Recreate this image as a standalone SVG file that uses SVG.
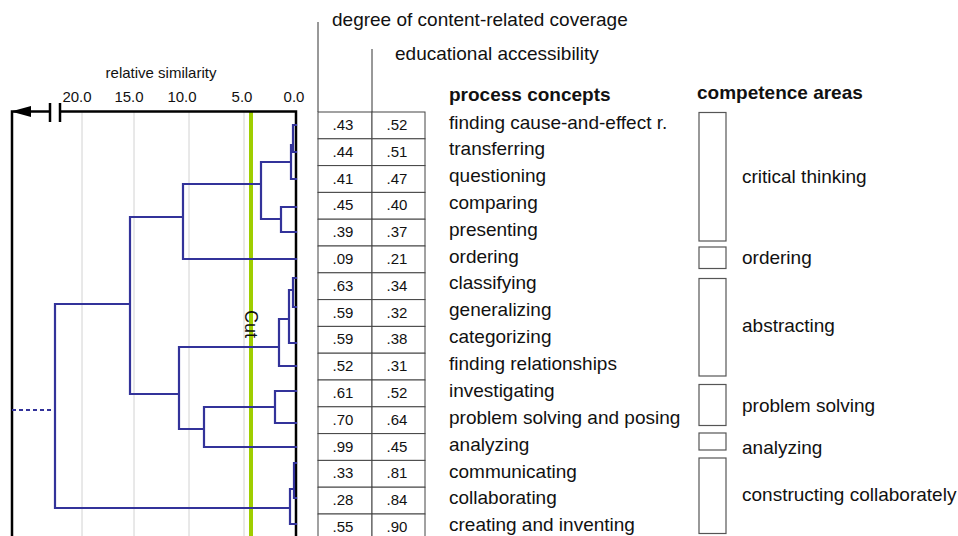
<svg xmlns="http://www.w3.org/2000/svg" width="958" height="536" viewBox="0 0 958 536">
<style>
text{font-family:"Liberation Sans",Arial,Helvetica,sans-serif;fill:#111}
.lbl{font-size:19px}
.b{font-size:19px;font-weight:bold}
.num{font-size:15px;text-anchor:middle}
.sc{font-size:15px;text-anchor:middle}
.grid{stroke:#d2d2d2;stroke-width:1;fill:none}
.frame{stroke:#000;stroke-width:2.5;fill:none}
.den{stroke:#33339a;stroke-width:2.2;fill:none;stroke-linecap:square}
.cell{stroke:#444;stroke-width:1;fill:#fff}
.box{stroke:#555;stroke-width:1.2;fill:#fff}
.thin{stroke:#333;stroke-width:1;fill:none}
</style>
<rect width="958" height="536" fill="#fff"/>
<g id="axis">
<text class="sc" x="161" y="78">relative similarity</text>
<text class="sc" x="77" y="102">20.0</text>
<text class="sc" x="129" y="102">15.0</text>
<text class="sc" x="182" y="102">10.0</text>
<text class="sc" x="242" y="102">5.0</text>
<text class="sc" x="294" y="102">0.0</text>
<path class="grid" d="M82,112V536M134,112V536M189,112V536M244,112V536"/>
<line x1="251" y1="112" x2="251" y2="536" stroke="#9fce00" stroke-width="4"/>
<path class="frame" d="M12,536V111.5H50M60,111.5H296V536M50,103V122M60,103V122"/>
<polygon points="11,111.5 31,106 31,117" fill="#000"/>
</g>
<g id="connectors">
<path class="den" d="M296,125H293V152H296M293,145H291V179H296M291,162H261V219H281M281,207V232M281,207H296M281,232H296M261,184H183V259H296M183,217H130V394H179M130,304H55V508H290M179,347V429M179,347H279M179,429H204M279,319V366H296M279,319H289M289,290V343H296M289,290H293M296,278H293V307H296M204,407V447H296M204,407H275M275,391V423H296M275,391H296M296,463H294V498H296M294,489H290V524H296"/>
<path d="M12,410H55" stroke="#33339a" stroke-width="2.2" stroke-dasharray="4,3" fill="none"/>
</g>
<text x="245" y="310" transform="rotate(90 245 310)" style="font-size:18px">Cut</text>
<g id="headers">
<line class="thin" x1="318" y1="22" x2="318" y2="112"/>
<line class="thin" x1="372" y1="49" x2="372" y2="112"/>
<text class="lbl" x="332" y="26">degree of content-related coverage</text>
<text class="lbl" x="395" y="60">educational accessibility</text>
<text class="b" x="449" y="101">process concepts</text>
<text class="b" x="697" y="99">competence areas</text>
</g>
<g id="rows">
<g id="r1"><rect class="cell" x="318" y="112" width="54" height="26.8"/><rect class="cell" x="372" y="112" width="53" height="26.8"/><text class="num" x="343" y="130">.43</text><text class="num" x="397" y="130">.52</text><text class="lbl" x="449" y="128.5">finding cause-and-effect r.</text></g>
<g id="r2"><rect class="cell" x="318" y="138.8" width="54" height="26.8"/><rect class="cell" x="372" y="138.8" width="53" height="26.8"/><text class="num" x="343" y="156.8">.44</text><text class="num" x="397" y="156.8">.51</text><text class="lbl" x="449" y="155.3">transferring</text></g>
<g id="r3"><rect class="cell" x="318" y="165.6" width="54" height="26.8"/><rect class="cell" x="372" y="165.6" width="53" height="26.8"/><text class="num" x="343" y="183.6">.41</text><text class="num" x="397" y="183.6">.47</text><text class="lbl" x="449" y="182.1">questioning</text></g>
<g id="r4"><rect class="cell" x="318" y="192.4" width="54" height="26.8"/><rect class="cell" x="372" y="192.4" width="53" height="26.8"/><text class="num" x="343" y="210.4">.45</text><text class="num" x="397" y="210.4">.40</text><text class="lbl" x="449" y="208.9">comparing</text></g>
<g id="r5"><rect class="cell" x="318" y="219.2" width="54" height="26.8"/><rect class="cell" x="372" y="219.2" width="53" height="26.8"/><text class="num" x="343" y="237.2">.39</text><text class="num" x="397" y="237.2">.37</text><text class="lbl" x="449" y="235.7">presenting</text></g>
<g id="r6"><rect class="cell" x="318" y="246" width="54" height="26.8"/><rect class="cell" x="372" y="246" width="53" height="26.8"/><text class="num" x="343" y="264">.09</text><text class="num" x="397" y="264">.21</text><text class="lbl" x="449" y="262.5">ordering</text></g>
<g id="r7"><rect class="cell" x="318" y="272.8" width="54" height="26.8"/><rect class="cell" x="372" y="272.8" width="53" height="26.8"/><text class="num" x="343" y="290.8">.63</text><text class="num" x="397" y="290.8">.34</text><text class="lbl" x="449" y="289.3">classifying</text></g>
<g id="r8"><rect class="cell" x="318" y="299.6" width="54" height="26.8"/><rect class="cell" x="372" y="299.6" width="53" height="26.8"/><text class="num" x="343" y="317.6">.59</text><text class="num" x="397" y="317.6">.32</text><text class="lbl" x="449" y="316.1">generalizing</text></g>
<g id="r9"><rect class="cell" x="318" y="326.4" width="54" height="26.8"/><rect class="cell" x="372" y="326.4" width="53" height="26.8"/><text class="num" x="343" y="344.4">.59</text><text class="num" x="397" y="344.4">.38</text><text class="lbl" x="449" y="342.9">categorizing</text></g>
<g id="r10"><rect class="cell" x="318" y="353.2" width="54" height="26.8"/><rect class="cell" x="372" y="353.2" width="53" height="26.8"/><text class="num" x="343" y="371.2">.52</text><text class="num" x="397" y="371.2">.31</text><text class="lbl" x="449" y="370">finding relationships</text></g>
<g id="r11"><rect class="cell" x="318" y="380" width="54" height="26.8"/><rect class="cell" x="372" y="380" width="53" height="26.8"/><text class="num" x="343" y="398">.61</text><text class="num" x="397" y="398">.52</text><text class="lbl" x="449" y="397">investigating</text></g>
<g id="r12"><rect class="cell" x="318" y="406.8" width="54" height="26.8"/><rect class="cell" x="372" y="406.8" width="53" height="26.8"/><text class="num" x="343" y="424.8">.70</text><text class="num" x="397" y="424.8">.64</text><text class="lbl" x="449" y="423.8">problem solving and posing</text></g>
<g id="r13"><rect class="cell" x="318" y="433.6" width="54" height="26.8"/><rect class="cell" x="372" y="433.6" width="53" height="26.8"/><text class="num" x="343" y="451.6">.99</text><text class="num" x="397" y="451.6">.45</text><text class="lbl" x="449" y="450.6">analyzing</text></g>
<g id="r14"><rect class="cell" x="318" y="460.4" width="54" height="26.8"/><rect class="cell" x="372" y="460.4" width="53" height="26.8"/><text class="num" x="343" y="478.4">.33</text><text class="num" x="397" y="478.4">.81</text><text class="lbl" x="449" y="477.6">communicating</text></g>
<g id="r15"><rect class="cell" x="318" y="487.2" width="54" height="26.8"/><rect class="cell" x="372" y="487.2" width="53" height="26.8"/><text class="num" x="343" y="505.2">.28</text><text class="num" x="397" y="505.2">.84</text><text class="lbl" x="449" y="504.4">collaborating</text></g>
<g id="r16"><rect class="cell" x="318" y="514" width="54" height="26.8"/><rect class="cell" x="372" y="514" width="53" height="26.8"/><text class="num" x="343" y="532">.55</text><text class="num" x="397" y="532">.90</text><text class="lbl" x="449" y="531">creating and inventing</text></g>
</g>
<g id="areas">
<g id="a1"><rect class="box" x="699" y="112.5" width="27" height="128.5"/><text class="lbl" x="742" y="183">critical thinking</text></g>
<g id="a2"><rect class="box" x="699" y="247" width="27" height="21.5"/><text class="lbl" x="742" y="263.5">ordering</text></g>
<g id="a3"><rect class="box" x="699" y="278.5" width="27" height="97.5"/><text class="lbl" x="742" y="331.5">abstracting</text></g>
<g id="a4"><rect class="box" x="699" y="384.5" width="27" height="41"/><text class="lbl" x="742" y="412">problem solving</text></g>
<g id="a5"><rect class="box" x="699" y="433" width="27" height="17"/><text class="lbl" x="742" y="454">analyzing</text></g>
<g id="a6"><rect class="box" x="699" y="458" width="27" height="75.5"/><text class="lbl" x="742" y="501">constructing collaborately</text></g>
</g>
</svg>
